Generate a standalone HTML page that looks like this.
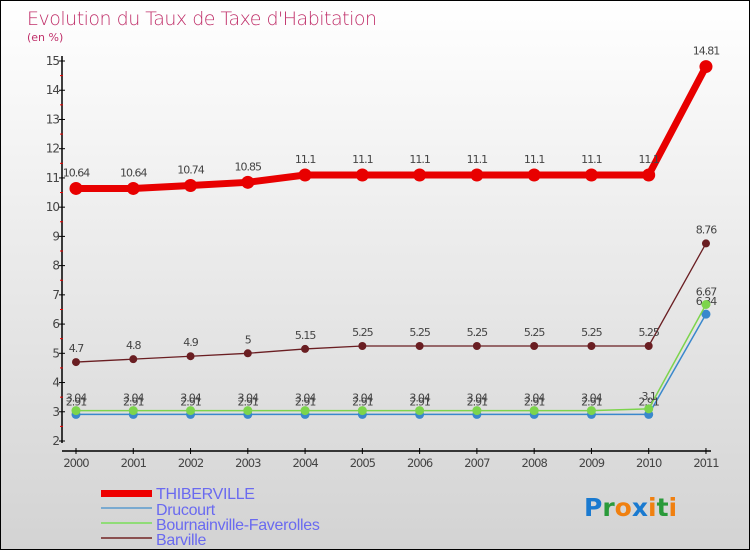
<!DOCTYPE html>
<html><head><meta charset="utf-8"><style>
body{margin:0}
#c{position:relative;width:748px;height:548px;border:1px solid #000;background:linear-gradient(#fff,#d3d3d3);font-family:"DejaVu Sans","Liberation Sans",sans-serif;overflow:hidden}
</style></head><body>
<div id="c">
<svg id="s" width="748" height="548" style="position:absolute;left:0;top:0">
<text x="26" y="24" font-size="19" fill="#c0306a" font-family="DejaVu Sans" font-weight="200" style="letter-spacing:-0.5px">Evolution du Taux de Taxe d'Habitation</text>
<text x="26" y="40" font-size="11" fill="#c0306a">(en %)</text>
<g id="axes"></g><g id="series"></g>
<g font-family="Liberation Sans" font-size="16" letter-spacing="-0.3">
<rect x="100" y="489" width="51" height="7" fill="#e00"/>
<text x="155" y="498" fill="#6a6af0">THIBERVILLE</text>
<rect x="100" y="506" width="51" height="2" fill="#7aaad0"/>
<text x="155" y="514" fill="#6a6af0">Drucourt</text>
<rect x="100" y="521" width="51" height="2" fill="#90dc78"/>
<text x="155" y="529" fill="#6a6af0">Bournainville-Faverolles</text>
<rect x="100" y="536" width="51" height="2" fill="#8a5050"/>
<text x="155" y="544" fill="#6a6af0">Barville</text>
</g>
<g font-size="25" font-family="DejaVu Sans" font-weight="bold">
<text x="583" y="515"><tspan fill="#1a7ad0">P</tspan><tspan fill="#2a9a3a">r</tspan><tspan fill="#f08010">o</tspan><tspan fill="#1a7ad0">x</tspan><tspan fill="#f08010">i</tspan><tspan fill="#2a9a3a">t</tspan><tspan fill="#f08010">i</tspan></text>
</g>
</svg>
</div>
<script>
const years=["2000","2001","2002","2003","2004","2005","2006","2007","2008","2009","2010","2011"];
const thiberville=[10.64,10.64,10.74,10.85,11.1,11.1,11.1,11.1,11.1,11.1,11.1,14.81];
const drucourt=[2.91,2.91,2.91,2.91,2.91,2.91,2.91,2.91,2.91,2.91,2.91,6.34];
const bournainville=[3.04,3.04,3.04,3.04,3.04,3.04,3.04,3.04,3.04,3.04,3.1,6.67];
const barville=[4.7,4.8,4.9,5,5.15,5.25,5.25,5.25,5.25,5.25,5.25,8.76];
const yTicks=[2,3,4,5,6,7,8,9,10,11,12,13,14,15];
const NS="http://www.w3.org/2000/svg";
const X=i=>75+i*57.27, Y=v=>440-(v-2)*29.23;
function mk(t,a,p){const e=document.createElementNS(NS,t);for(const k in a)e.setAttribute(k,a[k]);p.appendChild(e);return e;}
const ax=document.getElementById('axes'), sg=document.getElementById('series');
let l=mk('line',{x1:61,y1:55,x2:61,y2:442,stroke:'#000','stroke-width':1.5},ax);


l=mk('line',{x1:61,y1:450,x2:710,y2:450,stroke:'#000','stroke-width':1.5},ax);


yTicks.forEach(v=>{
 mk('line',{x1:58,x2:64,y1:Y(v),y2:Y(v),stroke:'#000'},ax);
 if(v<15)mk('line',{x1:59,x2:62,y1:Y(v+0.5),y2:Y(v+0.5),stroke:'#e00'},ax);
 const t=mk('text',{x:58,y:Y(v)+4,'font-size':12,fill:'#444','text-anchor':'end','letter-spacing':'-1'},ax);t.textContent=v;
 
 
});
years.forEach((y,i)=>{
 mk('line',{x1:X(i),x2:X(i),y1:447,y2:453,stroke:'#000'},ax);
 const t=mk('text',{x:X(i),y:466,'font-size':11.5,fill:'#444','text-anchor':'middle','letter-spacing':'-1'},ax);t.textContent=y;
 
 
});
function series(name,vals,col,w,r,lblDy){
 const g=mk('g',{},sg);
 
 
 mk('polyline',{points:vals.map((v,i)=>X(i)+','+Y(v)).join(' '),fill:'none',stroke:col,'stroke-width':w,'stroke-linejoin':'round'},g);
 vals.forEach((v,i)=>{
  const c=mk('circle',{cx:X(i),cy:Y(v),r:r,fill:col},g);
  
  
  const t=mk('text',{x:X(i),y:Y(v)+lblDy,'font-size':11,fill:'#444','text-anchor':'middle','letter-spacing':'-1'},g);t.textContent=v;
  
  
 });
}
series('barville',barville,'#6a1e22',1.3,4,-10);
series('drucourt',drucourt,'#3a88cc',1.5,4.5,-9);
series('bournainville',bournainville,'#7cd44c',1.5,4.5,-9);
series('thiberville',thiberville,'#e80000',7,6.5,-12);
</script>
</body></html>
